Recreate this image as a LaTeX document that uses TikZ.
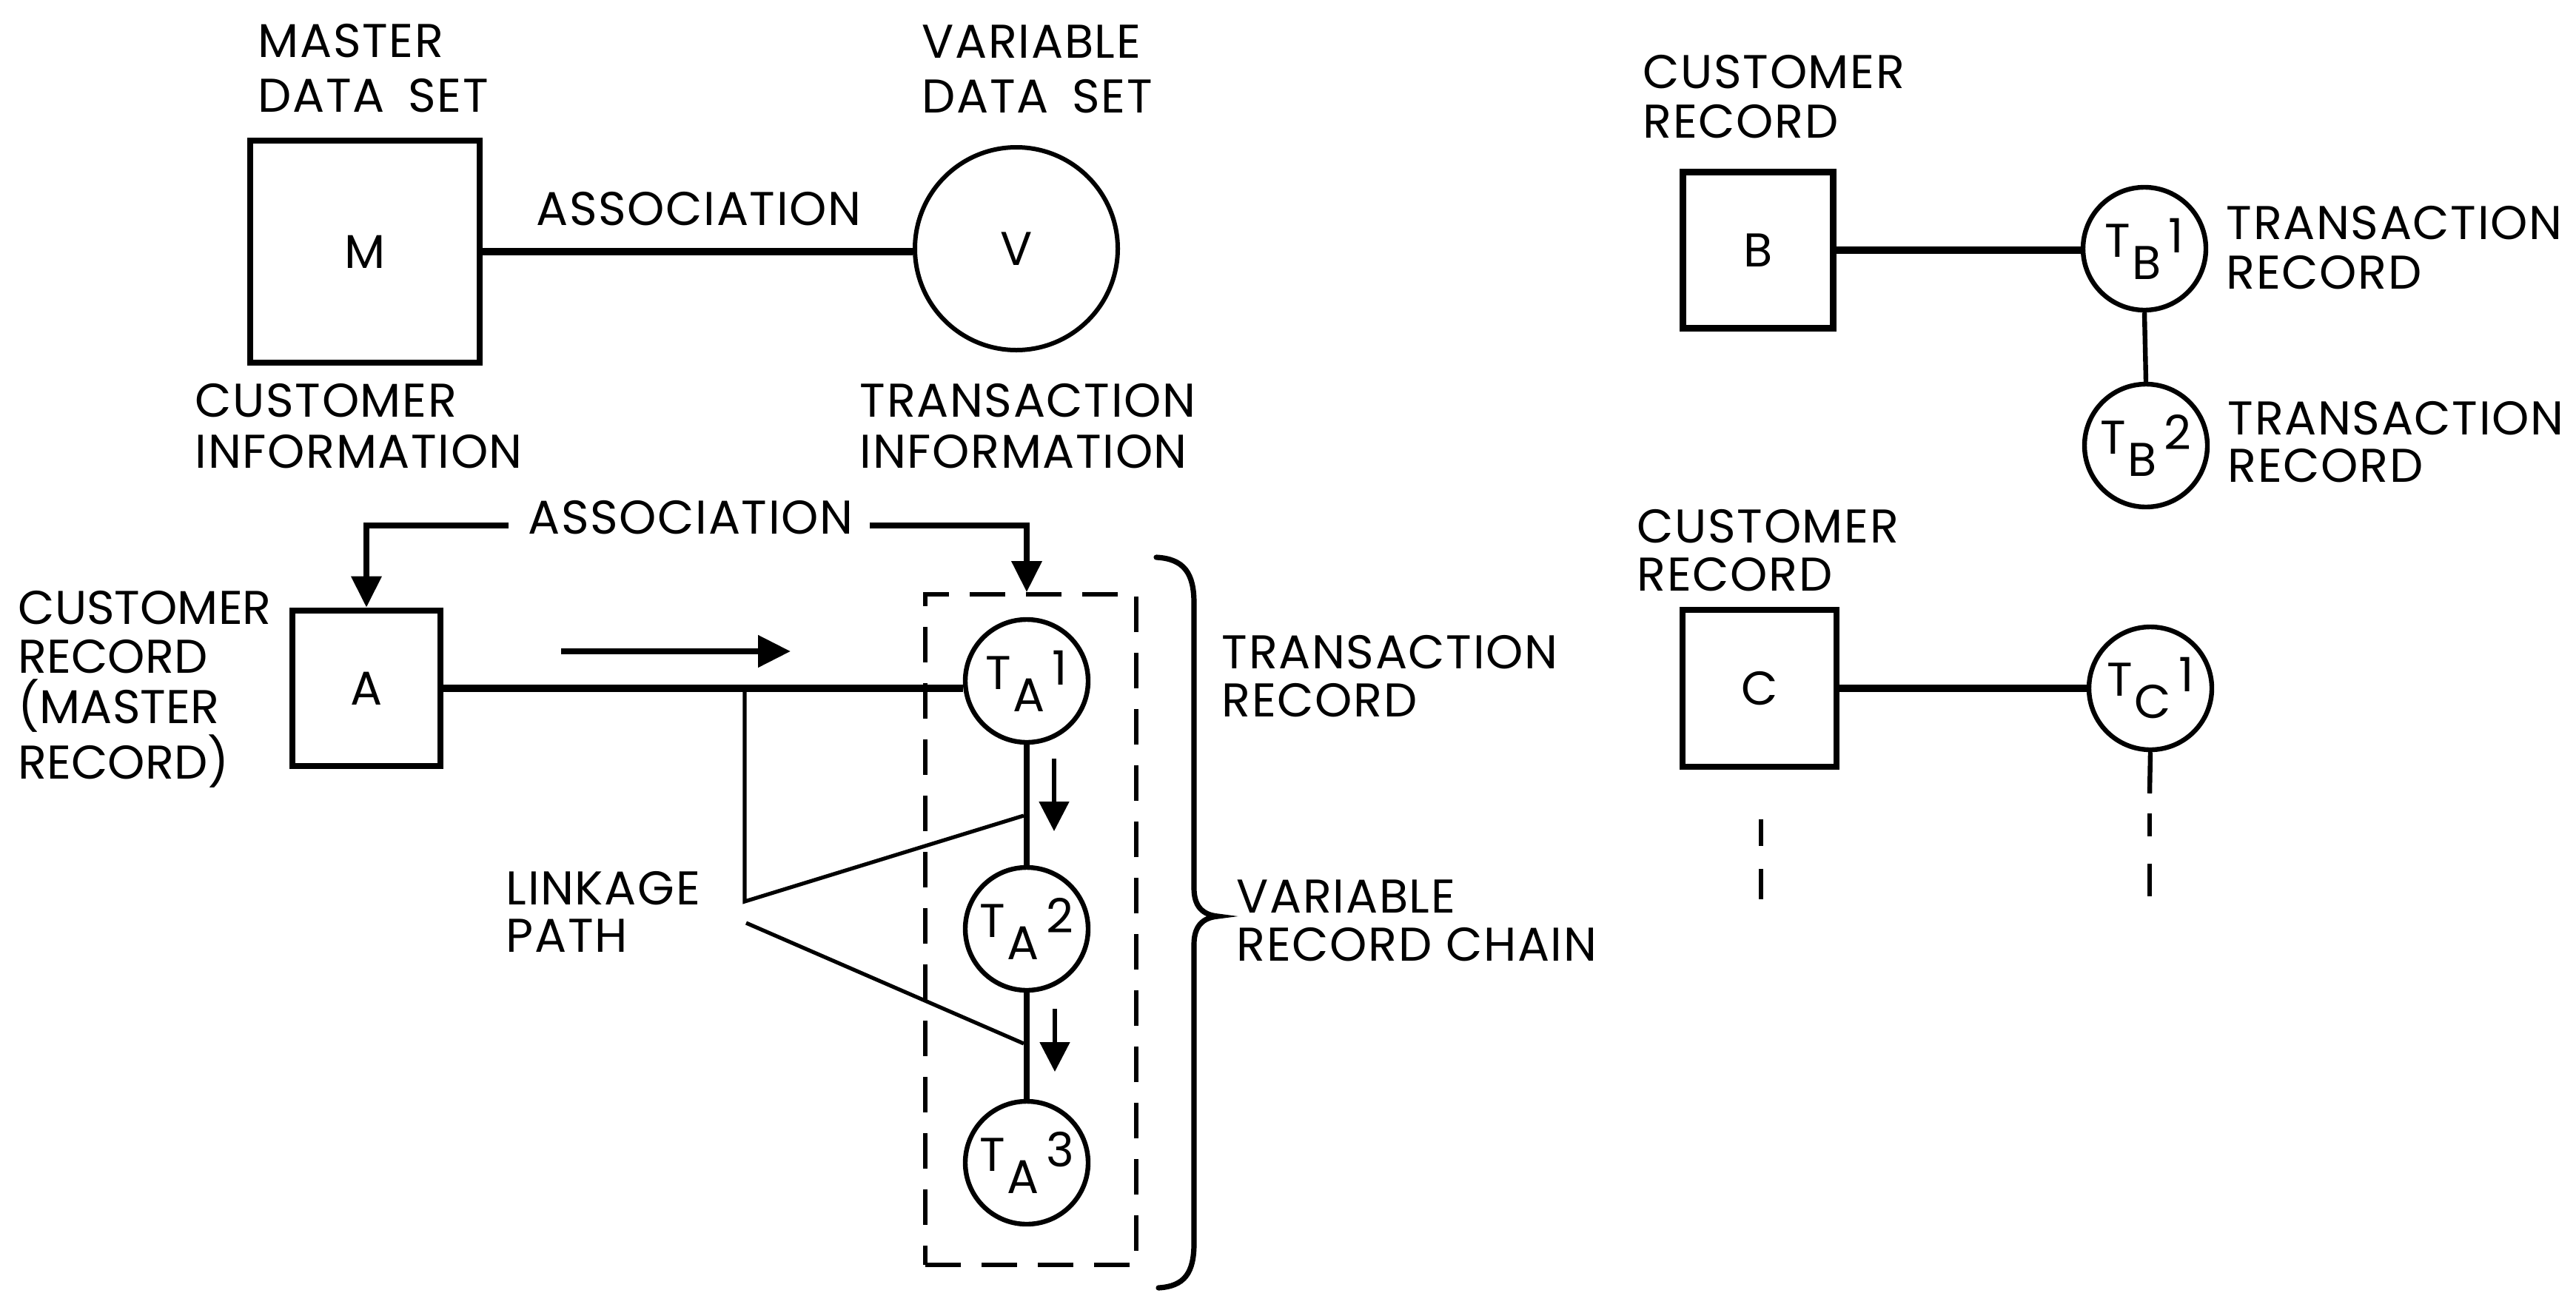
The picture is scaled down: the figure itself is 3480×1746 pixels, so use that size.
\documentclass[tikz,border=0pt]{standalone}
\usepackage{fontspec}
\setmainfont[LetterSpace=2.5]{Poppins}
\usetikzlibrary{arrows.meta}
\newcommand\trec[2]{T\kern0.6pt\raisebox{-7.5pt}{#1}\kern2.5pt\raisebox{1.5pt}{#2}}
\tikzset{
  txt/.style={font=\fontsize{16}{17}\selectfont},
  lbl/.style={txt, inner sep=0pt, align=left, anchor=north west},
  recbox/.style={txt, draw, line width=2.2pt, inner sep=0pt},
  rec/.style={txt, draw, circle, line width=1.6pt, minimum size=41.5pt, inner sep=0pt},
  bigrec/.style={txt, draw, circle, line width=1.5pt, minimum size=68.5pt, inner sep=0pt},
  conn/.style={line width=2.4pt},
  chain/.style={line width=2.2pt},
  thinline/.style={line width=1.3pt},
  assoc/.style={line width=1.8pt, -{Triangle[length=10.5pt,width=10pt]}},
  flow/.style={line width=2pt, -{Triangle[length=11pt,width=10.5pt]}},
  smallflow/.style={line width=1.3pt, -{Triangle[length=10pt,width=10pt]}},
  dashbox/.style={draw, line width=1.5pt, dash pattern=on 12pt off 7pt, inner sep=0pt},
  brace/.style={line width=1.8pt, line cap=round},
  stub/.style={line width=1.6pt}
}
\begin{document}
\begin{tikzpicture}[x=0.25pt,y=-0.25pt]
\useasboundingbox (0,0) rectangle (3480,1746);
% ---------- top left: data sets ----------
\node[lbl, font=\fontsize{16}{18.5}\selectfont] (mds) at (348,32) {MASTER\\DATA\hspace{8pt}SET};
\node[lbl, font=\fontsize{16}{18.5}\selectfont] (vds) at (1245,33) {VARIABLE\\DATA\hspace{8pt}SET};
\node[recbox, minimum width=77.5pt, minimum height=75pt] (M) at (493,340) {M};
\node[bigrec] (V) at (1373,336) {V};
\draw[conn] (M.east) -- (M.east -| V.west);
\node[txt, inner sep=0pt] (assocU) at (944,282) {ASSOCIATION};
\node[lbl, font=\fontsize{16}{17.25}\selectfont] (cinfo) at (263,518) {CUSTOMER\\INFORMATION};
\node[lbl, font=\fontsize{16}{17.25}\selectfont] (tinfo) at (1161,518) {TRANSACTION\\INFORMATION};
% ---------- bottom left: record chain ----------
\node[txt, inner sep=0pt] (assocL) at (933,699) {ASSOCIATION};
\node[lbl, font=\fontsize{16}{16.75}\selectfont\addfontfeature{LetterSpace=0}] (crec) at (24,797) {CUSTOMER\\RECORD\\(MASTER\\RECORD)};
\node[recbox, minimum width=50pt, minimum height=52.5pt] (A) at (495,930) {A};
\node[dashbox, minimum width=71.25pt, minimum height=226.5pt] (dbox) at (1392.5,1256) {};
\node[rec] (TA1) at (1387,920) {\trec{A}{1}};
\node[rec] (TA2) at (1387,1255) {\trec{A}{2}};
\node[rec] (TA3) at (1387,1571) {\trec{A}{3}};
\draw[assoc] ([xshift=-6.5pt,yshift=-2.75pt]assocL.west) -| (A.north);
\draw[assoc] ([xshift=5.5pt,yshift=-2.75pt]assocL.east) -| (TA1.north |- dbox.north);
\draw[conn] (A.east) -- (A.east -| TA1.west);
\coordinate (fa) at (758,880);
\coordinate (fb) at (1068,880);
\draw[flow] (fa) -- (fb);
\draw[chain] (TA1.south) -- (TA2.north);
\draw[chain] (TA2.south) -- (TA3.north);
\coordinate (s1a) at (1424,1025);
\coordinate (s1b) at (1424,1123);
\coordinate (s2a) at (1425,1363);
\coordinate (s2b) at (1425,1448);
\draw[smallflow] (s1a) -- (s1b);
\draw[smallflow] (s2a) -- (s2b);
% linkage path
\coordinate (lk0) at (1006,930);
\coordinate (lk1) at (1006,1218);
\coordinate (lk2) at (1008,1247);
\coordinate (ch1) at (1383,1102);
\coordinate (ch2) at (1383,1410);
\draw[thinline] (lk0) -- (lk1) -- (ch1);
\draw[thinline] (lk2) -- (ch2);
\node[lbl, font=\fontsize{16}{16}\selectfont] (lpath) at (683,1177) {LINKAGE\\PATH};
% brace
\draw[brace] (1562,753) .. controls (1600,755) and (1613,775) .. (1613,815)
  -- (1613,1200) .. controls (1613,1225) and (1625,1236) .. (1645,1238)
  .. controls (1625,1240) and (1613,1251) .. (1613,1276)
  -- (1613,1680) .. controls (1613,1720) and (1600,1738) .. (1565,1740);
\node[lbl, font=\fontsize{16}{16.25}\selectfont] (trec) at (1650,857) {TRANSACTION\\RECORD};
\node[lbl, font=\fontsize{16}{16.25}\selectfont] (vrc) at (1670,1188) {VARIABLE\\RECORD CHAIN};
% ---------- right: B ----------
\node[lbl, font=\fontsize{16}{16.75}\selectfont] (crecB) at (2219,74) {CUSTOMER\\RECORD};
\node[recbox, minimum width=50.75pt, minimum height=52.75pt] (B) at (2375,338) {B};
\node[rec] (TB1) at (2897,336) {\trec{B}{1}};
\node[rec] (TB2) at (2899,602) {\trec{B}{2}};
\draw[conn] (B.east) -- (B.east -| TB1.west);
\draw[stub] (TB1.south) -- (TB2.north);
\node[lbl, font=\fontsize{16}{16.75}\selectfont] (trB1) at (3007,278) {TRANSACTION\\RECORD};
\node[lbl, font=\fontsize{16}{16}\selectfont] (trB2) at (3009,542) {TRANSACTION\\RECORD};
% ---------- right: C ----------
\node[lbl, font=\fontsize{16}{16.25}\selectfont] (crecC) at (2211,688) {CUSTOMER\\RECORD};
\node[recbox, minimum width=52pt, minimum height=53pt] (C) at (2377,930) {C};
\node[rec] (TC1) at (2905,930) {\trec{C}{1}};
\draw[conn] (C.east) -- (C.east -| TC1.west);
\coordinate (tc0) at (2904,1072);
\coordinate (tc1) at (2904,1099);
\coordinate (tc2) at (2904,1130);
\coordinate (tc3) at (2904,1167);
\coordinate (tc4) at (2904,1211);
\draw[stub] (TC1.south) -- (tc0);
\draw[stub] (tc1) -- (tc2);
\draw[stub] (tc3) -- (tc4);
\coordinate (cd1) at (2379,1107);
\coordinate (cd2) at (2379,1143);
\coordinate (cd3) at (2379,1174);
\coordinate (cd4) at (2379,1215);
\draw[stub] (cd1) -- (cd2);
\draw[stub] (cd3) -- (cd4);
\end{tikzpicture}
\end{document}
